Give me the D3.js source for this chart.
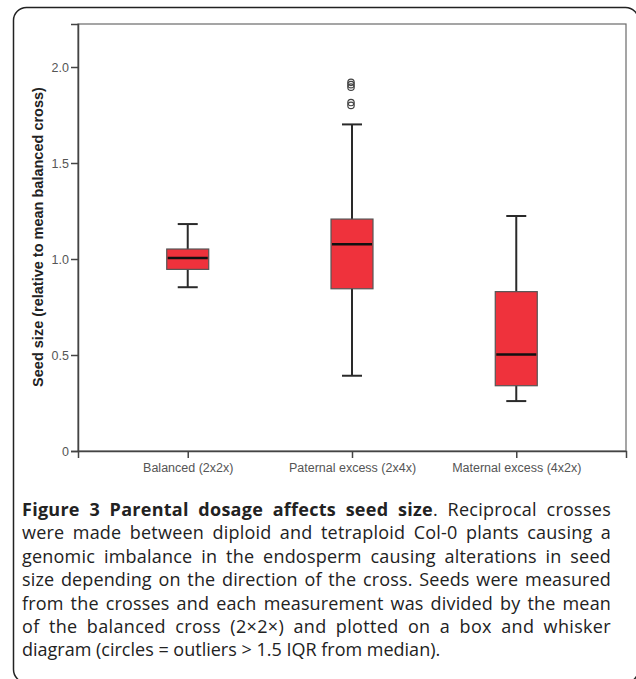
<!DOCTYPE html>
<html>
<head>
<meta charset="utf-8">
<script src="https://cdn.jsdelivr.net/npm/d3@7"></script>
<style>
body { margin:0; background:#fff; }
</style>
</head>
<body>
<svg id="chart"></svg>
<script>
// values (relative seed size)
var categories = ["Balanced (2x2x)","Paternal excess (2x4x)","Maternal excess (4x2x)"];
var whiskerLow = [0.853, 0.392, 0.260];
var quart1     = [0.946, 0.845, 0.340];
var medians    = [1.005, 1.077, 0.502];
var quart3     = [1.052, 1.208, 0.830];
var whiskerHigh= [1.182, 1.701, 1.224];
var outliers   = [[], [1.920, 1.908, 1.895, 1.815, 1.800], []];
var yTicks     = [0, 0.5, 1.0, 1.5, 2.0];
var yTickLabels= ["0","0.5","1.0","1.5","2.0"];

var captionTitle = "Figure 3 Parental dosage affects seed size";
var captionLines = [
    ". Reciprocal crosses",
    "were made between diploid and tetraploid Col-0 plants causing a",
    "genomic imbalance in the endosperm causing alterations in seed",
    "size depending on the direction of the cross. Seeds were measured",
    "from the crosses and each measurement was divided by the mean",
    "of the balanced cross (2\u00d72\u00d7) and plotted on a box and whisker",
    "diagram (circles = outliers > 1.5 IQR from median)."
];

var screen = {width:636, height:679};
var plot = {left:78, right:626, top:24, bottom:451};

var svg = d3.select("#chart")
    .attr("width",screen.width)
    .attr("height",screen.height);

// rounded frame round the whole figure
svg.append("rect")
    .attr("x",13.5).attr("y",7.5)
    .attr("width",625).attr("height",675)
    .attr("rx",13)
    .attr("fill","none")
    .attr("stroke","#222")
    .attr("stroke-width",1.5);

var xScale = d3.scalePoint()
    .domain(categories)
    .range([plot.left,plot.right])
    .padding(0.668);

var yScale = d3.scaleLinear()
    .domain([0,2.224])
    .range([plot.bottom,plot.top]);

// plot frame
svg.append("rect")
    .attr("x",plot.left).attr("y",plot.top)
    .attr("width",plot.right-plot.left)
    .attr("height",plot.bottom-plot.top)
    .attr("fill","none")
    .attr("stroke","#6a6a6a")
    .attr("stroke-width",1.2);

var yAxis = d3.axisLeft(yScale)
    .tickValues(yTicks)
    .tickFormat(function(d,i){ return yTickLabels[i]; })
    .tickSize(7)
    .tickPadding(2);

var xAxis = d3.axisBottom(xScale)
    .tickSize(7)
    .tickPadding(5);

var gy = svg.append("g")
    .attr("transform","translate("+plot.left+",0)")
    .call(yAxis);
var gx = svg.append("g")
    .attr("transform","translate(0,"+plot.bottom+")")
    .call(xAxis);

[gx,gy].forEach(function(g)
{
    g.select(".domain").attr("stroke","#444").attr("stroke-width",1.5);
    g.selectAll(".tick line").attr("stroke","#444").attr("stroke-width",1.5);
    g.selectAll(".tick text")
        .attr("fill","#555")
        .style("font-family","'Liberation Sans', Arial, sans-serif")
        .style("font-size","12.5px");
});

svg.append("text")
    .attr("transform","translate(43,237) rotate(-90)")
    .attr("text-anchor","middle")
    .style("font-family","'Liberation Sans', Arial, sans-serif")
    .style("font-size","14.5px")
    .style("font-weight","bold")
    .attr("fill","#222")
    .text("Seed size (relative to mean balanced cross)");

// boxes
var boxW = 42, capW = 20;
var boxes = svg.append("g").selectAll("g")
    .data(categories)
    .enter().append("g");

boxes.append("line")
    .attr("x1",function(d){ return xScale(d); })
    .attr("x2",function(d){ return xScale(d); })
    .attr("y1",function(d,i){ return yScale(whiskerHigh[i]); })
    .attr("y2",function(d,i){ return yScale(whiskerLow[i]); })
    .attr("stroke","#2a2a2a").attr("stroke-width",2);

[whiskerHigh,whiskerLow].forEach(function(arr)
{
    boxes.append("line")
        .attr("x1",function(d){ return xScale(d)-capW/2; })
        .attr("x2",function(d){ return xScale(d)+capW/2; })
        .attr("y1",function(d,i){ return yScale(arr[i]); })
        .attr("y2",function(d,i){ return yScale(arr[i]); })
        .attr("stroke","#2a2a2a").attr("stroke-width",2);
});

boxes.append("rect")
    .attr("x",function(d){ return xScale(d)-boxW/2; })
    .attr("width",boxW)
    .attr("y",function(d,i){ return yScale(quart3[i]); })
    .attr("height",function(d,i){ return yScale(quart1[i])-yScale(quart3[i]); })
    .attr("fill","#ef323c")
    .attr("stroke","#555")
    .attr("stroke-width",1.2);

boxes.append("line")
    .attr("x1",function(d){ return xScale(d)-boxW/2+1; })
    .attr("x2",function(d){ return xScale(d)+boxW/2-1; })
    .attr("y1",function(d,i){ return yScale(medians[i]); })
    .attr("y2",function(d,i){ return yScale(medians[i]); })
    .attr("stroke","#111").attr("stroke-width",2.5);

// outliers
boxes.each(function(d,i)
{
    d3.select(this).selectAll("circle")
        .data(outliers[i])
        .enter().append("circle")
        .attr("cx",xScale(d)-1)
        .attr("cy",function(v){ return yScale(v); })
        .attr("r",3.2)
        .attr("fill","none")
        .attr("stroke","#444")
        .attr("stroke-width",1.2);
});

// caption, justified: part of the slack goes to letters, the rest to word gaps
var cap = {left:22, right:611, top:516, lineH:23.4};
var capFont = "'Open Sans', 'Noto Sans', sans-serif";
captionLines.forEach(function(line,i)
{
    var t = svg.append("text")
        .attr("x",cap.left)
        .attr("y",cap.top+i*cap.lineH)
        .attr("fill","#222")
        .style("font-family",capFont)
        .style("font-size","18px");
    var words = line;
    if(i==0)
    {
        t.append("tspan").style("font-weight","bold").text(captionTitle);
        t.append("tspan").text(line);
        words = captionTitle + line;
    }
    else
    {
        t.text(line);
    }
    if(i < captionLines.length-1)
    {
        var spaces = words.split(" ").length-1;
        var natural = t.node().getComputedTextLength();
        var slack = cap.right-cap.left-natural;
        var perLetter = Math.max(-0.3, Math.min(0.35, 0.3*slack/words.length));
        t.style("letter-spacing",perLetter+"px");
        var spaced = t.node().getComputedTextLength();
        t.style("word-spacing",((cap.right-cap.left-spaced)/spaces)+"px");
    }
});
</script>
</body>
</html>
